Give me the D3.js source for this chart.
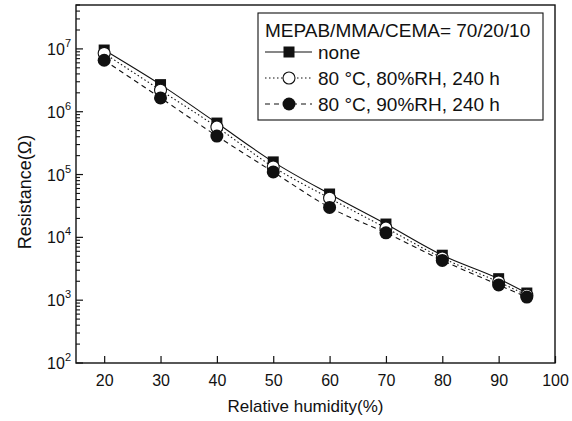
<!DOCTYPE html>
<html><head><meta charset="utf-8">
<script src="https://cdn.jsdelivr.net/npm/d3@7"></script>
<style>body{margin:0;background:#fff}svg{display:block}text{font-family:"Liberation Sans",Arial,sans-serif;fill:#111}</style>
</head><body>
<svg id="c" width="572" height="421"></svg>
<script>
const humidity = [20, 30, 40, 50, 60, 70, 80, 90, 95];
const none = [9.6e6, 2.7e6, 6.6e5, 1.59e5, 4.9e4, 1.63e4, 5.2e3, 2.2e3, 1.3e3];
const rh80 = [8.5e6, 2.2e6, 5.7e5, 1.32e5, 4.2e4, 1.41e4, 4.7e3, 1.95e3, 1.2e3];
const rh90 = [6.6e6, 1.66e6, 4.1e5, 1.1e5, 3.0e4, 1.18e4, 4.3e3, 1.75e3, 1.12e3];
const xTicks = [20, 30, 40, 50, 60, 70, 80, 90, 100];
const yExps = [2, 3, 4, 5, 6, 7];
const legendTitle = "MEPAB/MMA/CEMA= 70/20/10";
const seriesNames = ["none", "80 \u00B0C, 80%RH, 240 h", "80 \u00B0C, 90%RH, 240 h"];

const svg = d3.select("#c");
const L = 76, R = 555, T = 5, B = 363;
const x = d3.scaleLinear().domain([15, 100]).range([L, R]);
const y = d3.scaleLog().domain([1e2, 5e7]).range([B, T]);

// frame
svg.append("rect").attr("x", L).attr("y", T).attr("width", R - L).attr("height", B - T)
  .attr("fill", "none").attr("stroke", "#111").attr("stroke-width", 1.4);

// x axis ticks
const xAxis = d3.axisBottom(x).tickValues(xTicks).tickSizeInner(-7).tickSizeOuter(0).tickPadding(12);
const gx = svg.append("g").attr("transform", `translate(0,${B})`).call(xAxis);
gx.select(".domain").remove();
gx.selectAll("line").attr("stroke", "#111").attr("stroke-width", 1.2);
gx.selectAll("text").attr("font-size", 16).attr("fill", "#111").attr("font-family", '"Liberation Sans",Arial,sans-serif');

// y axis minor ticks
const minor = [];
for (let e = 2; e <= 7; e++) for (let m = 2; m <= 9; m++) { const v = m * Math.pow(10, e); if (v <= 5e7) minor.push(v); }
svg.append("g").selectAll("line").data(minor).join("line")
  .attr("x1", L).attr("x2", L + 4).attr("y1", d => y(d)).attr("y2", d => y(d))
  .attr("stroke", "#111").attr("stroke-width", 1.1);
// y major ticks
const majors = yExps.map(e => Math.pow(10, e));
svg.append("g").selectAll("line").data(majors).join("line")
  .attr("x1", L).attr("x2", L + 7).attr("y1", d => y(d)).attr("y2", d => y(d))
  .attr("stroke", "#111").attr("stroke-width", 1.2);
const yl = svg.append("g").selectAll("text").data(yExps).join("text")
  .attr("x", L - 5).attr("y", e => y(Math.pow(10, e)) + 6).attr("text-anchor", "end").attr("font-size", 16);
yl.append("tspan").text("10");
yl.append("tspan").attr("font-size", 11).attr("dy", -8).text(e => e);

// axis titles
svg.append("text").attr("x", (L + R) / 2 - 10).attr("y", 412).attr("text-anchor", "middle")
  .attr("font-size", 17).text("Relative humidity(%)");
svg.append("text").attr("transform", `translate(31,192) rotate(-90)`).attr("text-anchor", "middle")
  .attr("font-size", 18).text("Resistance(\u03A9)");

// series
const series = [
  { name: seriesNames[0], vals: none, dash: null, marker: "square" },
  { name: seriesNames[1], vals: rh80, dash: "1.5,2.5", marker: "open" },
  { name: seriesNames[2], vals: rh90, dash: "5,4", marker: "filled" }
];
const line = d3.line().x(d => x(d[0])).y(d => y(d[1])).curve(d3.curveMonotoneX);
series.forEach(s => {
  svg.append("path").datum(humidity.map((h, i) => [h, s.vals[i]]))
    .attr("d", line).attr("fill", "none").attr("stroke", "#111").attr("stroke-width", 1.1)
    .attr("stroke-dasharray", s.dash);
});
function drawMarker(g, type, cx, cy) {
  if (type === "square") g.append("rect").attr("x", cx - 5.5).attr("y", cy - 5.5).attr("width", 11).attr("height", 11).attr("fill", "#111");
  else if (type === "open") g.append("circle").attr("cx", cx).attr("cy", cy).attr("r", 6).attr("fill", "#fff").attr("stroke", "#111").attr("stroke-width", 1.1);
  else g.append("circle").attr("cx", cx).attr("cy", cy).attr("r", 6.5).attr("fill", "#111");
}
const mg = svg.append("g");
series.forEach(s => humidity.forEach((h, i) => drawMarker(mg, s.marker, x(h), y(s.vals[i]))));

// legend
const lg = svg.append("g");
lg.append("rect").attr("x", 258).attr("y", 13).attr("width", 285).attr("height", 107)
  .attr("fill", "#fff").attr("stroke", "#111").attr("stroke-width", 1.1);
lg.append("text").attr("x", 265).attr("y", 37).attr("font-size", 19).text(legendTitle);
series.forEach((s, i) => {
  const yy = 52 + i * 26;
  lg.append("line").attr("x1", 265).attr("x2", 312).attr("y1", yy).attr("y2", yy)
    .attr("stroke", "#111").attr("stroke-width", 1.1).attr("stroke-dasharray", s.dash);
  drawMarker(lg, s.marker, 289, yy);
  lg.append("text").attr("x", 318).attr("y", yy + 6.5).attr("font-size", 19).text(s.name);
});
</script>
</body></html>
